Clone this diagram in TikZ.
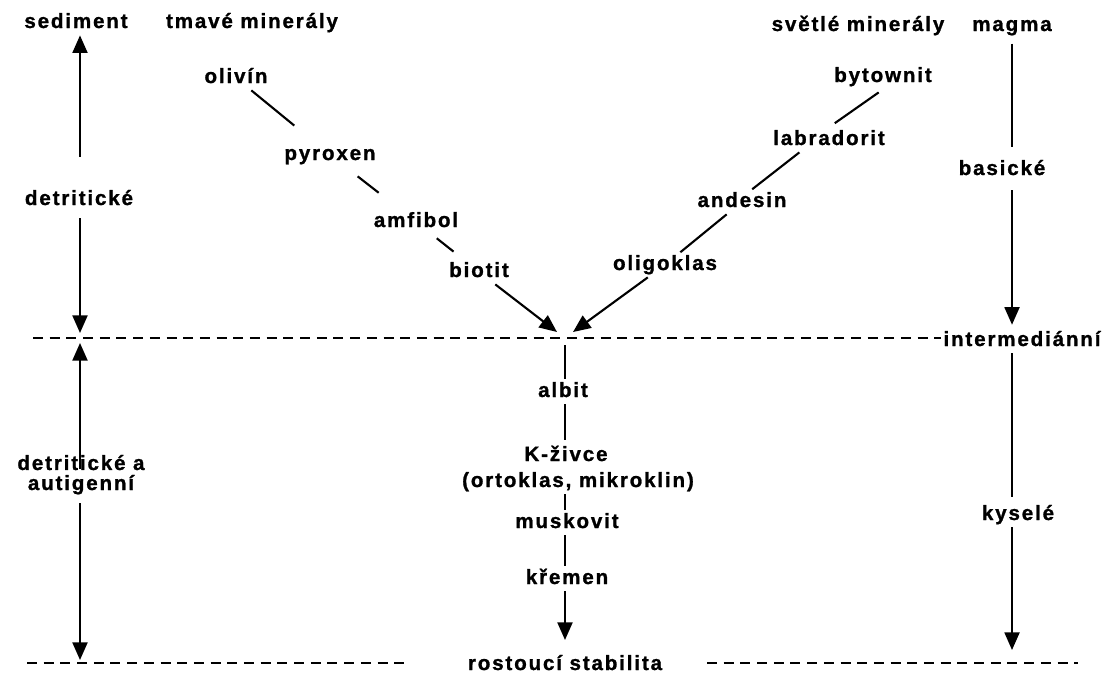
\documentclass[tikz,border=0pt]{standalone}
\usepackage{fontspec}
\setmainfont{Liberation Sans}[LetterSpace=9, BoldFeatures={FakeBold=1.2}]
\usetikzlibrary{arrows.meta}

\begin{document}
\begin{tikzpicture}[x=0.02cm, y=-0.02cm,
    lbl/.style={font=\fontsize{11.7}{11.4}\selectfont\bfseries, anchor=base, inner sep=1.5pt, text height=8.4pt, text depth=2.5pt},
    link/.style={line width=1.2pt},
    arr/.style={line width=1.2pt, -{Triangle[length=10pt,width=8.5pt]}},
    lvl/.style={line width=1.4pt, dash pattern=on 5.7pt off 3.8pt}]
    \useasboundingbox (0,0) rectangle (1108,677);

    % headings
    \node[lbl] (sed) at (76,28) {sediment};
    \node[lbl] (tmave) at (252,28) {tmavé minerály};
    \node[lbl] (svetle) at (858,31) {světlé minerály};
    \node[lbl] (magma) at (1012,31) {magma};

    % dark minerals
    \node[lbl] (oli) at (236,83) {olivín};
    \node[lbl] (pyr) at (330,160) {pyroxen};
    \node[lbl] (amf) at (416,227) {amfibol};
    \node[lbl] (bio) at (479,277) {biotit};

    % light minerals
    \node[lbl] (byt) at (883,82) {bytownit};
    \node[lbl] (lab) at (829,145) {labradorit};
    \node[lbl] (and) at (742,207) {andesin};
    \node[lbl] (olig) at (665,270) {oligoklas};

    % stable minerals
    \node[lbl] (alb) at (563,397) {albit};
    \node[lbl] (kz) at (566,461) {K-živce};
    \node[lbl] (orto) at (578,487) {(ortoklas, mikroklin)};
    \node[lbl] (musk) at (567,528) {muskovit};
    \node[lbl] (krem) at (567,584) {křemen};
    \node[lbl] (rost) at (565,670) {rostoucí stabilita};

    % side columns
    \node[lbl] (det) at (79,205) {detritické};
    \node[lbl, align=center, text depth=] (deta) at (81,490) {detritické a\\autigenní};
    \node[lbl] (bas) at (1002,175) {basické};
    \node[lbl] (inter) at (1022,346) {intermediánní};
    \node[lbl] (kys) at (1018,520) {kyselé};

    \coordinate (lax) at (80,0);
    \coordinate (rax) at (1012,0);
    \coordinate (cx) at (565,0);
    \coordinate (mL) at (557,332);
    \coordinate (mR) at (573,332);
    \coordinate (top) at (565,345);
    \coordinate (kend) at (565,640);

    % levels
    \draw[lvl] (33,338) coordinate (dl) -- (dl -| inter.west);
    \draw[lvl] (27,663) coordinate (b1) -- (407,663) coordinate (b2);
    \draw[lvl] (707,663) coordinate (b3) -- (1078,663) coordinate (b4);

    % left
    \draw[arr, shorten <=17.4pt] (det.north -| lax) -- (sed.south -| lax);
    \draw[arr, shorten <=3.4pt] (det.south -| lax) -- (80,333);
    \draw[arr, shorten <=2pt] (deta.north -| lax) -- (80,343);
    \draw[arr, shorten <=3.4pt] (deta.south -| lax) -- (80,660);

    % right
    \draw[link, shorten <=3pt, shorten >=6pt] (magma.south -| rax) -- (bas.north -| rax);
    \draw[arr, shorten <=4.5pt, shorten >=2pt] (bas.south -| rax) -- (inter.north -| rax);
    \draw[link, shorten >=3pt] (inter.south -| rax) -- (kys.north -| rax);
    \draw[arr] (kys.south -| rax) -- (rax |- 0,650);

    % series
    \draw[link, shorten >=15pt] (oli) -- (pyr);
    \draw[link, shorten <=8.3pt, shorten >=15.3pt] (pyr) -- (amf);
    \draw[link, shorten <=3.6pt, shorten >=7pt] (amf) -- (bio);
    \draw[arr] (bio) -- (mL);
    \draw[link, shorten <=3pt, shorten >=4pt] (byt.south) -- (lab.north);
    \draw[link] (lab.203) -- (and.51);
    \draw[link] (and) -- (olig);
    \draw[arr] (olig) -- (mR);

    \draw[link] (top) -- (alb.north -| cx);
    \draw[link, shorten >=2pt] (alb.south -| cx) -- (kz.north -| cx);
    \draw[link] (orto.south -| cx) -- (musk.north -| cx);
    \draw[link] (musk.south -| cx) -- (krem.north -| cx);
    \draw[arr] (krem.south -| cx) -- (kend);
\end{tikzpicture}
\end{document}
